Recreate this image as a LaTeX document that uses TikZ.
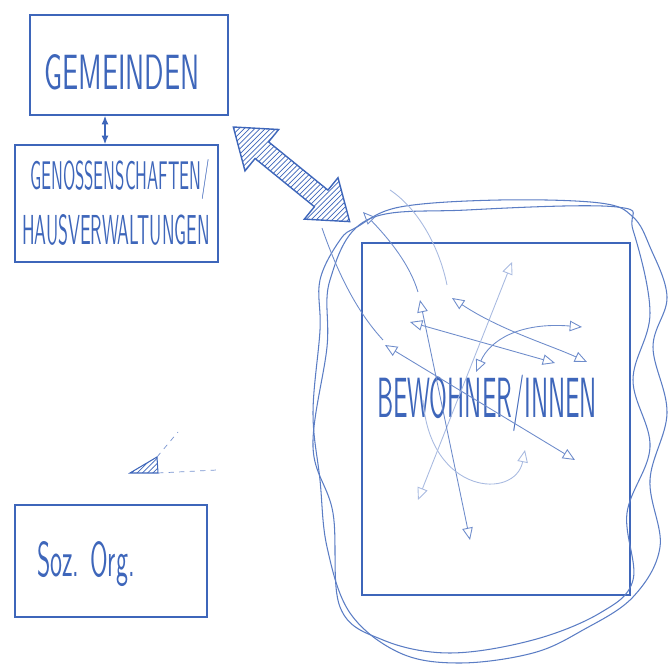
\documentclass[tikz,border=0pt]{standalone}
\usetikzlibrary{arrows.meta,shapes.arrows,patterns}
\definecolor{penblue}{RGB}{62,102,186}
\tikzset{
  box/.style={draw=penblue, line width=0.8pt, inner sep=0pt},
  hand/.style={text=penblue, font=\sffamily, inner sep=0pt},
  flow/.style={draw=penblue!75, line width=0.5pt},
  faint/.style={draw=penblue!45, line width=0.5pt},
  hd/.tip={Triangle[open,length=7pt,width=6pt]},
  sm/.tip={Latex[length=5pt,width=4pt]}
}
\begin{document}
\begin{tikzpicture}[x=0.02cm, y=-0.02cm]
    \useasboundingbox (0,0) rectangle (670,668);

    % boxes
    \node[box, minimum width=3.96cm, minimum height=2cm] (gem) at (129,65) {};
    \node[box, minimum width=4.06cm, minimum height=2.34cm] (gen) at (116.5,203.5) {};
    \node[box, minimum width=5.36cm, minimum height=7.04cm] (bew) at (496,419) {};
    \node[box, minimum width=3.84cm, minimum height=2.24cm] (soz) at (111,561) {};

    \node[hand] (gemtext) at (122,72) {\resizebox{3.1cm}{0.7cm}{GEMEINDEN}};
    \node[hand] (gentext) at (120,180) {\resizebox{3.6cm}{0.6cm}{GENOSSENSCHAFTEN/}};
    \node[hand] (hvtext) at (116,230) {\resizebox{3.76cm}{0.6cm}{HAUSVERWALTUNGEN}};
    \node[hand] (bewtext) at (487,403) {\resizebox{4.4cm}{0.85cm}{BEWOHNER/INNEN}};
    \node[hand] (soztext) at (86,564) {\resizebox{1.95cm}{0.7cm}{Soz. Org.}};

    \draw[penblue, line width=0.8pt, sm-sm] ([xshift=-0.48cm]gem.south) -- ([xshift=-0.48cm]gem.south |- gen.north);

    % big hatched arrow
    \coordinate (hA) at ([shift={(15,-17)}]gen.north east);
    \coordinate (hB) at ([shift={(-12,-21)}]bew.north west);
    \path (hA) -- node[sloped, double arrow, draw=penblue, line width=0.8pt,
        pattern=north east lines, pattern color=penblue, minimum height=3cm,
        inner sep=0.2cm, double arrow head extend=0.32cm,
        double arrow tip angle=72] (link) {} (hB);

    % scribbled loops round the residents
    \draw[penblue!85, line width=0.6pt] plot[smooth cycle, tension=0.6] coordinates {
        (357,227) (400,207) (500,200) (600,203) (633,217) (650,247) (667,297)
        (653,347) (667,413) (650,480) (660,547) (633,597) (583,630) (533,653)
        (460,663) (400,653) (350,613) (327,547) (320,480) (313,413) (320,330)
        (320,280) (340,240)};
    \draw[penblue!85, line width=0.6pt] plot[smooth cycle, tension=0.6] coordinates {
        (367,220) (467,210) (617,207) (633,230) (650,313) (633,380) (650,447)
        (627,513) (633,580) (600,613) (533,640) (450,653) (383,640) (340,607)
        (333,513) (313,447) (327,347) (330,280)};

    % relations inside
    \draw[flow, hd-hd] (385,345) -- (575,460);
    \draw[flow, hd-hd] (410,322) -- (555,363);
    \draw[flow, hd-hd] (452,298) .. controls (500,330) and (550,345) .. (587,362);
    \draw[faint, hd-hd] (418,500) -- (512,262);
    \draw[flow, hd-hd] (420,300) -- (470,540);
    \draw[flow, hd-hd] (476,372) .. controls (490,340) and (520,322) .. (582,327);
    \draw[faint, -hd] (423,400) .. controls (430,495) and (515,500) .. (525,450);
    \draw[flow, hd-] (363,212) .. controls (390,240) and (410,265) .. (418,292);
    \draw[flow] (322,228) .. controls (340,280) and (360,315) .. (383,340);
    \draw[faint] (390,190) .. controls (420,210) and (440,250) .. (447,285);

    % little mark above Soz. Org.
    \draw[penblue, line width=0.6pt, pattern=north east lines, pattern color=penblue]
        (130,473) -- (157,457) -- (158,473) -- cycle;
    \draw[penblue!70, dashed] (158,473) -- (217,470);
    \draw[penblue!70, dashed] (157,457) -- (178,432);
\end{tikzpicture}
\end{document}
